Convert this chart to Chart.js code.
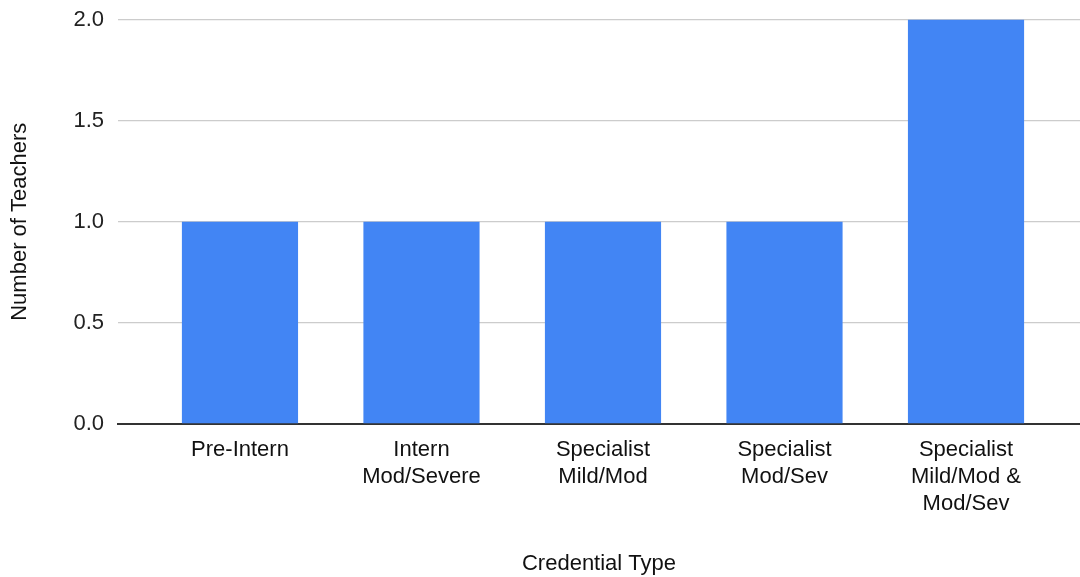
<!DOCTYPE html>
<html>
<head>
<meta charset="utf-8">
<script src="https://cdn.jsdelivr.net/npm/chart.js@4/dist/chart.umd.min.js"></script>
<style>
  html, body { margin: 0; padding: 0; background: #fff; }
  #wrap { width: 1080px; height: 577px; }
</style>
</head>
<body>
<div id="wrap"><canvas id="myChart" width="1080" height="577"></canvas></div>
<script>
// credential types, one array per wrapped label
var categories = [
    ['Pre-Intern'],
    ['Intern', 'Mod/Severe'],
    ['Specialist', 'Mild/Mod'],
    ['Specialist', 'Mod/Sev'],
    ['Specialist', 'Mild/Mod &', 'Mod/Sev']
]
var teachers = [1, 1, 1, 1, 2]
var yTicks = [0, 0.5, 1, 1.5, 2]

const font = { family: '"Liberation Sans", Arial, sans-serif', size: 22 }

const ctx = document.getElementById('myChart');
const myChart = new Chart(ctx, {
    type: 'bar',
    data: {
        datasets: [{
            label: 'Number of Teachers',
            data: teachers.map((v, i) => ({ x: i, y: v })),
            backgroundColor: '#4285F4',
            borderWidth: 0,
            categoryPercentage: 0.64,
            barPercentage: 1
        }]
    },
    options: {
        responsive: false,
        animation: false,
        layout: { padding: 0 },
        plugins: {
            legend: { display: false },
            tooltip: { enabled: false }
        },
        scales: {
            x: {
                type: 'linear',
                offset: false,
                min: -0.672,
                max: 4.628,
                afterBuildTicks: (scale) => {
                    scale.ticks = categories.map((c, i) => ({ value: i }))
                },
                afterFit: (scale) => { scale.height = 153 },
                grid: { display: false, drawTicks: false, offset: false },
                border: { display: true, color: '#333333', width: 2 },
                ticks: {
                    autoSkip: false,
                    maxRotation: 0,
                    padding: 12,
                    color: '#111111',
                    font: { ...font, lineHeight: 1.23 },
                    callback: (v) => categories[v]
                },
                title: {
                    display: true,
                    text: 'Credential Type',
                    color: '#111111',
                    font: font,
                    padding: { top: 0, bottom: 0 }
                }
            },
            y: {
                min: 0,
                max: 2,
                afterBuildTicks: (scale) => {
                    scale.ticks = yTicks.map((v) => ({ value: v }))
                },
                afterFit: (scale) => { scale.width = 118 },
                grid: { color: '#cccccc', lineWidth: 1.3, drawTicks: false },
                border: { display: false },
                ticks: {
                    padding: 14,
                    color: '#222222',
                    font: { ...font, lineHeight: 0.5 },
                    callback: (v) => v.toFixed(1)
                },
                title: {
                    display: true,
                    text: 'Number of Teachers',
                    color: '#111111',
                    font: font,
                    padding: { top: 7, bottom: 0 }
                }
            }
        }
    }
});
</script>
</body>
</html>
